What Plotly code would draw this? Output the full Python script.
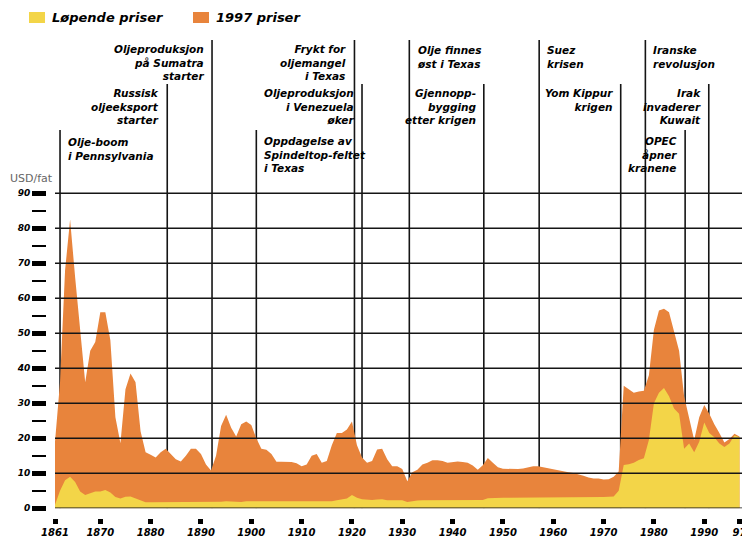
import plotly.graph_objects as go

# oil price, USD per barrel, 1861-1997
years = list(range(1861, 1998))

# 1997 prices (orange)
price_1997 = [
    19, 36, 68, 82.5, 66, 50, 36, 45, 47.5, 56,             # 1861-1870
    56, 48, 26, 18.6, 34, 38.5, 36, 22, 16, 15.3,           # 1871-1880
    14.5, 16, 17, 15.5, 14, 13.4, 15, 17, 17, 15.5,         # 1881-1890
    12.5, 10.8, 15, 23.5, 26.7, 23, 20.5, 24, 24.8, 23.8,   # 1891-1900
    20, 17, 16.7, 15.5, 13.3, 13.3, 13.3, 13.2, 12.9, 12,   # 1901-1910
    12.5, 15, 15.5, 13, 13.5, 18, 21.5, 21.5, 22.5, 24.8,   # 1911-1920
    18, 14.5, 13, 13.5, 16.8, 17, 14, 12, 12, 11.2,         # 1921-1930
    7.7, 10.3, 11, 12.5, 13, 13.7, 13.7, 13.5, 13, 13.2,    # 1931-1940
    13.4, 13.2, 13, 12.2, 11, 12.3, 14.4, 13, 11.7, 11.3,   # 1941-1950
    11.2, 11.1, 11.2, 11.4, 11.7, 12, 12, 11.7, 11.3, 11.1, # 1951-1960
    10.7, 10.5, 10.3, 10.1, 9.8, 9.3, 8.8, 8.5, 8.5, 8.2,   # 1961-1970
    8.3, 9, 10.5, 35, 34, 33, 33.4, 33.6, 38, 51,           # 1971-1980
    56.5, 57, 56, 50.5, 45, 32, 25.8, 19.5, 26, 29.5,       # 1981-1990
    27, 24, 21.5, 18.8, 19.8, 21.3, 20.5,                   # 1991-1997
]

# current prices (yellow)
price_current = [
    1.0, 5.0, 8.0, 9.0, 7.5, 4.8, 3.8, 4.3, 4.8, 4.8,
    5.2, 4.5, 3.2, 2.8, 3.3, 3.4, 2.8, 2.2, 1.7, 1.7,
    1.7, 1.7, 1.7, 1.7, 1.7, 1.7, 1.7, 1.7, 1.8, 1.8,
    1.8, 1.8, 1.8, 1.9, 2.0, 1.9, 1.8, 1.8, 2.0, 2.0,
    1.9, 1.8, 1.8, 1.8, 1.8, 1.8, 1.8, 1.8, 1.8, 1.8,
    1.8, 1.8, 1.9, 1.8, 1.8, 2.0, 2.3, 2.6, 2.8, 3.8,
    3.0, 2.6, 2.4, 2.4, 2.5, 2.6, 2.3, 2.3, 2.3, 2.3,
    1.8, 2.1, 2.2, 2.3, 2.3, 2.3, 2.3, 2.3, 2.3, 2.3,
    2.3, 2.3, 2.3, 2.3, 2.3, 2.4, 2.9, 3.0, 3.0, 3.0,
    3.0, 3.0, 3.0, 3.0, 3.0, 3.0, 3.0, 3.0, 3.0, 3.0,
    3.0, 3.0, 3.0, 3.0, 3.0, 3.0, 3.0, 3.0, 3.1, 3.2,
    3.3, 3.4, 5.0, 12.4, 12.6, 13.0, 13.8, 14.3, 19.5, 30.0,
    33.0, 34.4, 32.0, 28.5, 27.0, 17.0, 18.5, 16.0, 19.0, 24.5,
    21.5, 20.3, 18.5, 17.5, 18.5, 20.8, 20.3,
]

y_ticks = [0, 10, 20, 30, 40, 50, 60, 70, 80, 90]
y_minor = [5, 15, 25, 35, 45, 55, 65, 75, 85]
x_ticks = [1861, 1870, 1880, 1890, 1900, 1910, 1920, 1930, 1940, 1950, 1960, 1970, 1980, 1990, 1997]
x_ticktext = ["1861", "1870", "1880", "1890", "1900", "1910", "1920", "1930",
              "1940", "1950", "1960", "1970", "1980", "1990", "97"]

event_years = [1862, 1883.3, 1892.2, 1901.0, 1920.5, 1922.0, 1931.4,
               1946.2, 1957.2, 1973.4, 1978.3, 1986.2, 1990.9]
event_labels = [
    "Olje-boom<br>i Pennsylvania",
    "Russisk<br>oljeeksport<br>starter",
    "Oljeproduksjon<br>på Sumatra<br>starter",
    "Oppdagelse av<br>Spindeltop-feltet<br>i Texas",
    "Frykt for<br>oljemangel<br>i Texas",
    "Oljeproduksjon<br>i Venezuela<br>øker",
    "Olje finnes<br>øst i Texas",
    "Gjennopp-<br>bygging<br>etter krigen",
    "Suez<br>krisen",
    "Yom Kippur<br>krigen",
    "Iranske<br>revolusjon",
    "OPEC<br>åpner<br>kranene",
    "Irak<br>invaderer<br>Kuwait",
]
# layout of the labels: row (0 top, 1 middle, 2 bottom), text side of line
event_row = [2, 1, 0, 2, 0, 1, 0, 1, 0, 1, 0, 2, 1]
event_side = ["r", "l", "l", "r", "l", "l", "r", "l", "r", "l", "r", "l", "l"]

YELLOW = "#F3D548"
ORANGE = "#E8843C"

# the page puts the figure 8 px in from the top-left corner; positions
# below are given in screen pixels and converted with sx / sy
OFF = 8
W, H = 750, 540
ML, MR, MT, MB = 0, 16, 0, 30
PW = W - ML - MR
PH = H - MT - MB
Y0_PX = 508.3          # screen row of value 0
PX_PER_UNIT = 3.5


def sx(px):
    return (px - OFF - ML) / PW


def sy(py):
    return (H - MB - (py - OFF)) / PH


def val_at(py):
    return (Y0_PX - py) / PX_PER_UNIT


bold = dict(family="DejaVu Sans", color="black", weight="bold", style="italic")

fig = go.Figure()
fig.add_trace(go.Scatter(x=years, y=price_1997, mode="lines", fill="tozeroy",
                         line=dict(width=0, color=ORANGE), fillcolor=ORANGE,
                         name="1997 priser", hoverinfo="skip"))
fig.add_trace(go.Scatter(x=years, y=price_current, mode="lines", fill="tozeroy",
                         line=dict(width=0, color=YELLOW), fillcolor=YELLOW,
                         name="Løpende priser", hoverinfo="skip"))

shapes = []
annotations = []

# horizontal grid, drawn over the areas
for v in y_ticks:
    shapes.append(dict(type="line", xref="x domain", yref="y", x0=0, x1=1, y0=v, y1=v,
                       line=dict(color="#151515", width=1.5), layer="above"))

row_line_top = [40, 84, 130]
row_first_line = [51, 94.5, 143]
line_gap = 11.8
for yr, lab, row, side in zip(event_years, event_labels, event_row, event_side):
    shapes.append(dict(type="line", xref="x", yref="y", x0=yr, x1=yr, y0=0,
                       y1=val_at(row_line_top[row]),
                       line=dict(color="#151515", width=1.6), layer="below"))
    n = len(lab.split("<br>"))
    mid = row_first_line[row] + (n - 1) * line_gap / 2
    annotations.append(dict(
        x=yr, xref="x", y=sy(mid), yref="paper",
        text=lab, showarrow=False,
        xanchor="left" if side == "r" else "right",
        align="left" if side == "r" else "right",
        xshift=6 if side == "r" else -6, yanchor="middle",
        font=dict(size=10.5, **bold)))

# legend
for x0, col, txt in [(29, YELLOW, "Løpende priser"), (193, ORANGE, "1997 priser")]:
    shapes.append(dict(type="rect", xref="paper", yref="paper",
                       x0=sx(x0), x1=sx(x0 + 16), y0=sy(23), y1=sy(12),
                       fillcolor=col, line=dict(width=0)))
    annotations.append(dict(x=sx(x0 + 21), y=sy(17.5), xref="paper", yref="paper",
                            text=txt, showarrow=False, xanchor="left", yanchor="middle",
                            font=dict(size=13, **bold)))

annotations.append(dict(x=0, y=sy(178), xref="paper", yref="paper",
                        text="USD/fat", showarrow=False, xanchor="left", yanchor="middle",
                        font=dict(family="DejaVu Sans", size=11, color="#666666")))

fig.update_layout(
    width=W, height=H,
    margin=dict(l=ML, r=MR, t=MT, b=MB),
    template="none",
    paper_bgcolor="white", plot_bgcolor="white",
    showlegend=False,
    shapes=shapes, annotations=annotations,
    xaxis=dict(domain=[sx(55), 1], range=[1861, 1997.5], anchor="free", position=0,
               tickvals=x_ticks, ticktext=x_ticktext, ticks="outside", ticklen=5,
               tickwidth=5, tickcolor="black", showgrid=False, zeroline=False,
               showline=False, automargin=False, tickfont=dict(size=10, **bold)),
    yaxis=dict(domain=[sy(Y0_PX), 1], range=[0, (Y0_PX - OFF) / PX_PER_UNIT],
               anchor="free", position=sx(46), tickvals=y_ticks, ticks="outside",
               ticklen=14, tickwidth=5, tickcolor="black", showgrid=False,
               zeroline=False, showline=False, automargin=False,
               tickfont=dict(size=9, **bold),
               minor=dict(tickvals=y_minor, ticks="outside", ticklen=14, tickwidth=2,
                          tickcolor="black", showgrid=False)),
)

fig.write_html("out.html")
